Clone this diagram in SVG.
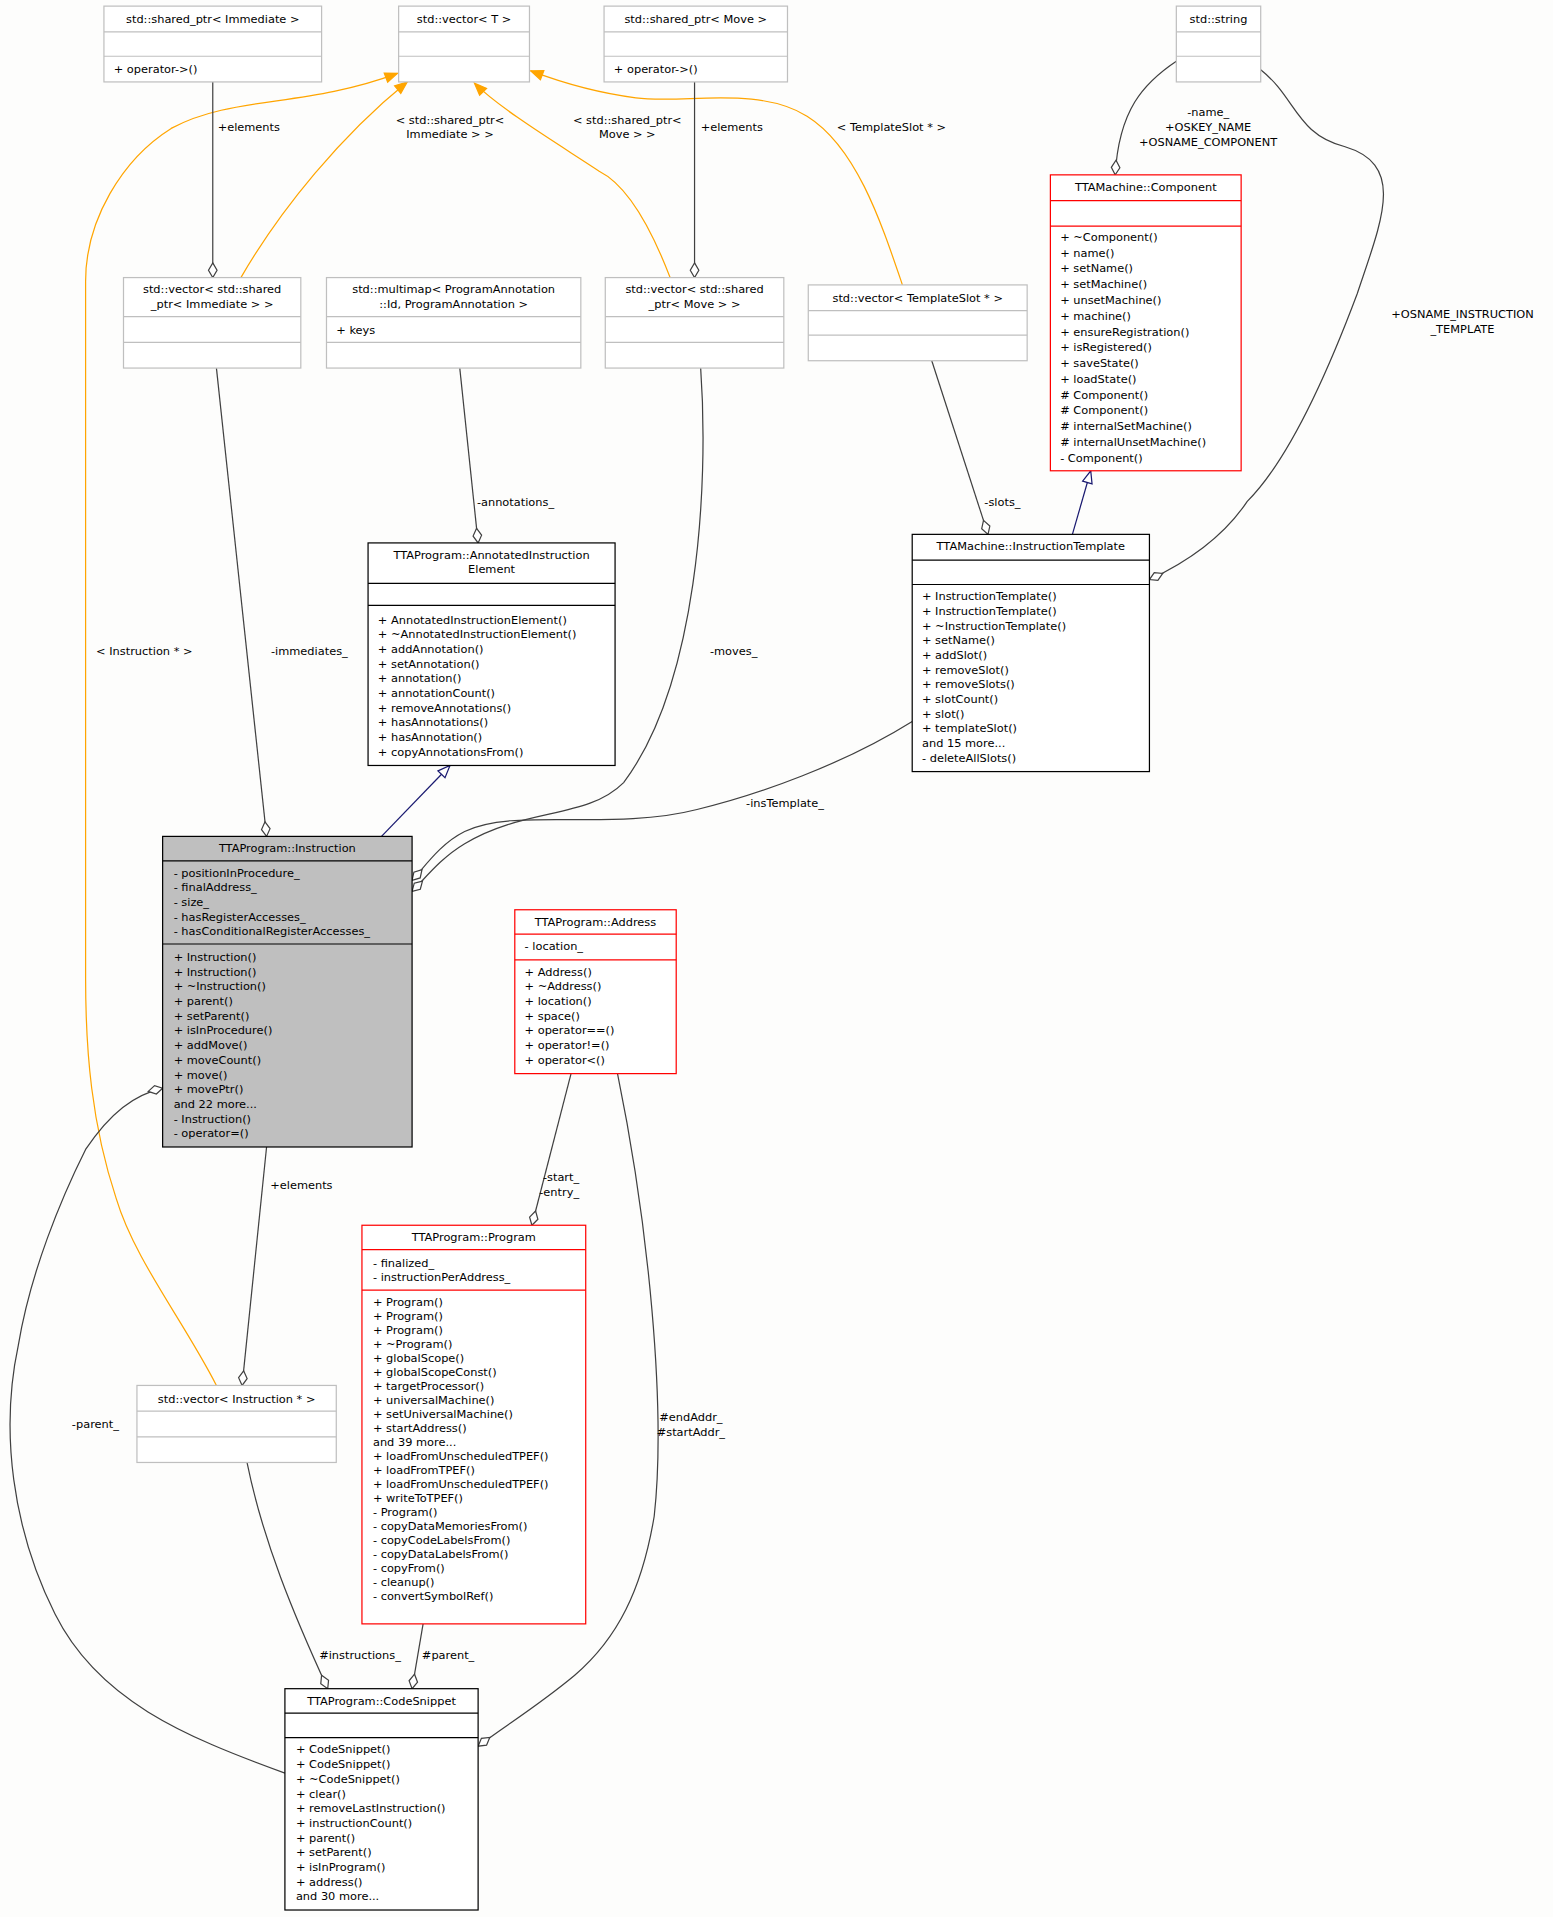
<svg xmlns="http://www.w3.org/2000/svg" width="1553" height="1917" viewBox="0 0 1553 1917">
<defs>
<style>
text{font-family:"DejaVu Sans","Liberation Sans",sans-serif;font-size:9.3px;fill:#000}
.t{text-anchor:middle}
.g{fill:#fff;stroke:#bfbfbf;stroke-width:1}
.b{fill:#fff;stroke:#000;stroke-width:1}
.r{fill:#fff;stroke:#ff0000;stroke-width:1}
.gl{stroke:#bfbfbf;stroke-width:1}
.bl{stroke:#000;stroke-width:1}
.rl{stroke:#ff0000;stroke-width:1}
.e{fill:none;stroke:#404040;stroke-width:1;marker-end:url(#dia)}
.o{fill:none;stroke:#ffa500;stroke-width:1;marker-end:url(#arr)}
.n{fill:none;stroke:#191970;stroke-width:1;marker-end:url(#tri)}
</style>
<marker id="dia" markerUnits="userSpaceOnUse" markerWidth="14" markerHeight="10" refX="12" refY="4" orient="auto" overflow="visible"><path d="M0,4 L6,0.5 L12,4 L6,7.5 Z" fill="#fff" stroke="#404040" stroke-width="1"/></marker>
<marker id="arr" markerUnits="userSpaceOnUse" markerWidth="12" markerHeight="10" refX="10" refY="4" orient="auto" overflow="visible"><path d="M0,0 L10,4 L0,8 Z" fill="#ffa500" stroke="#ffa500" stroke-width="1"/></marker>
<marker id="tri" markerUnits="userSpaceOnUse" markerWidth="12" markerHeight="10" refX="10" refY="4" orient="auto" overflow="visible"><path d="M0,0 L10,4 L0,8 Z" fill="#fff" stroke="#191970" stroke-width="1"/></marker>
</defs>
<rect width="1553" height="1917" fill="#fdfdfc"/>
<g transform="scale(1.2228)">
<g id="connectors">
<path class="o" d="M197,227 C230,170 280,110 333,67"/>
<text class="t" x="368" y="101">&lt; std::shared_ptr&lt;</text><text class="t" x="368" y="113">Immediate &gt; &gt;</text>
<path class="o" d="M548,227 C530,180 510,150 490,140 C460,120 410,90 388,68"/>
<text class="t" x="513" y="101">&lt; std::shared_ptr&lt;</text><text class="t" x="513" y="113">Move &gt; &gt;</text>
<path class="o" d="M738,233 C720,180 700,120 660,95 C620,70 560,85 520,80 C480,75 450,64 434,58"/>
<text class="t" x="729" y="107">&lt; TemplateSlot * &gt;</text>
<path class="o" d="M177,1133 C150,1080 110,1030 95,980 C75,920 70,860 70,800 L70,230 C70,180 100,130 140,105 C190,78 250,88 325,60"/>
<text class="t" x="118" y="536">&lt; Instruction * &gt;</text>
<path class="e" d="M174,67 L174,227"/>
<text x="178" y="107">+elements</text>
<path class="e" d="M568,67 L568,227"/>
<text x="573" y="107">+elements</text>
<path class="e" d="M962,50 C935,68 915,90 912,143"/>
<text class="t" x="988" y="95">-name_</text><text class="t" x="988" y="107">+OSKEY_NAME</text><text class="t" x="988" y="119">+OSNAME_COMPONENT</text>
<path class="e" d="M1031,57 C1060,80 1060,110 1100,120 C1150,135 1130,180 1110,240 C1080,320 1050,380 1020,410 C1000,440 970,460 940,474"/>
<text class="t" x="1196" y="260">+OSNAME_INSTRUCTION</text><text class="t" x="1196" y="272">_TEMPLATE</text>
<path class="e" d="M762,295 L808,437"/>
<text x="805" y="414">-slots_</text>
<path class="e" d="M376,301 L391,444"/>
<text x="390" y="414">-annotations_</text>
<path class="e" d="M177,301 L218,684"/>
<text class="t" x="253" y="536">-immediates_</text>
<path class="e" d="M573,301 C580,400 570,560 510,640 C480,670 430,660 380,690 C360,702 348,718 337,729"/>
<text class="t" x="600" y="536">-moves_</text>
<path class="e" d="M746,590 C690,625 620,650 570,662 C500,680 420,660 380,680 C360,690 348,708 337,720"/>
<text class="t" x="642" y="660">-insTemplate_</text>
<path class="e" d="M218,938 L198,1133"/>
<text x="221" y="972">+elements</text>
<path class="e" d="M467,878 L435,1002"/>
<text x="444" y="966">-start_</text><text x="441" y="978">-entry_</text>
<path class="e" d="M505,878 C530,1000 545,1150 535,1240 C525,1300 505,1340 470,1370 C440,1395 415,1410 391,1428"/>
<text class="t" x="565" y="1162">#endAddr_</text><text class="t" x="565" y="1174">#startAddr_</text>
<path class="e" d="M202,1196 C215,1260 240,1320 268,1381"/>
<text x="261" y="1357">#instructions_</text>
<path class="e" d="M346,1328 L337,1381"/>
<text x="345" y="1357">#parent_</text>
<path class="e" d="M233,1450 C150,1420 80,1390 45,1320 C10,1250 0,1170 15,1100 C25,1040 50,980 70,940 C90,910 110,895 133,890"/>
<text class="t" x="78" y="1168">-parent_</text>
<path class="n" d="M312,684 L368,626"/>
<path class="n" d="M877,437 L892,385"/>
</g>
<g id="spImmediate"><rect class="g" x="85" y="5" width="178" height="62"/><line class="gl" x1="85" y1="26" x2="263" y2="26"/><line class="gl" x1="85" y1="46" x2="263" y2="46"/><text class="t" x="174" y="19">std::shared_ptr&lt; Immediate &gt;</text><text x="93" y="60">+ operator-&gt;()</text></g>
<g id="vectorT"><rect class="g" x="326" y="5" width="107" height="62"/><line class="gl" x1="326" y1="26" x2="433" y2="26"/><line class="gl" x1="326" y1="46" x2="433" y2="46"/><text class="t" x="379.5" y="19">std::vector&lt; T &gt;</text></g>
<g id="spMove"><rect class="g" x="494" y="5" width="150" height="62"/><line class="gl" x1="494" y1="26" x2="644" y2="26"/><line class="gl" x1="494" y1="46" x2="644" y2="46"/><text class="t" x="569" y="19">std::shared_ptr&lt; Move &gt;</text><text x="502" y="60">+ operator-&gt;()</text></g>
<g id="string"><rect class="g" x="962" y="5" width="69" height="62"/><line class="gl" x1="962" y1="26" x2="1031" y2="26"/><line class="gl" x1="962" y1="46" x2="1031" y2="46"/><text class="t" x="996.5" y="19">std::string</text></g>
<g id="vecSpImmediate"><rect class="g" x="101" y="227" width="145" height="74"/><line class="gl" x1="101" y1="259" x2="246" y2="259"/><line class="gl" x1="101" y1="280" x2="246" y2="280"/><text class="t" x="173.5" y="240">std::vector&lt; std::shared</text><text class="t" x="173.5" y="252">_ptr&lt; Immediate &gt; &gt;</text></g>
<g id="multimap"><rect class="g" x="267" y="227" width="208" height="74"/><line class="gl" x1="267" y1="259" x2="475" y2="259"/><line class="gl" x1="267" y1="280" x2="475" y2="280"/><text class="t" x="371" y="240">std::multimap&lt; ProgramAnnotation</text><text class="t" x="371" y="252">::Id, ProgramAnnotation &gt;</text><text x="275" y="273">+ keys</text></g>
<g id="vecSpMove"><rect class="g" x="495" y="227" width="146" height="74"/><line class="gl" x1="495" y1="259" x2="641" y2="259"/><line class="gl" x1="495" y1="280" x2="641" y2="280"/><text class="t" x="568" y="240">std::vector&lt; std::shared</text><text class="t" x="568" y="252">_ptr&lt; Move &gt; &gt;</text></g>
<g id="vecTemplateSlot"><rect class="g" x="661" y="233" width="179" height="62"/><line class="gl" x1="661" y1="254" x2="840" y2="254"/><line class="gl" x1="661" y1="274" x2="840" y2="274"/><text class="t" x="750.5" y="247">std::vector&lt; TemplateSlot * &gt;</text></g>
<g id="component"><rect class="r" x="859" y="143" width="156" height="242"/><line class="rl" x1="859" y1="164" x2="1015" y2="164"/><line class="rl" x1="859" y1="185" x2="1015" y2="185"/><text class="t" x="937" y="156">TTAMachine::Component</text>
<text x="867" y="197">+ ~Component()</text><text x="867" y="209.9">+ name()</text><text x="867" y="222.8">+ setName()</text><text x="867" y="235.7">+ setMachine()</text><text x="867" y="248.6">+ unsetMachine()</text><text x="867" y="261.5">+ machine()</text><text x="867" y="274.4">+ ensureRegistration()</text><text x="867" y="287.3">+ isRegistered()</text><text x="867" y="300.2">+ saveState()</text><text x="867" y="313.1">+ loadState()</text><text x="867" y="326">#  Component()</text><text x="867" y="338.9">#  Component()</text><text x="867" y="351.8">#  internalSetMachine()</text><text x="867" y="364.7">#  internalUnsetMachine()</text><text x="867" y="377.6">- Component()</text></g>
<g id="annotated"><rect class="b" x="301" y="444" width="202" height="182"/><line class="bl" x1="301" y1="477" x2="503" y2="477"/><line class="bl" x1="301" y1="495" x2="503" y2="495"/><text class="t" x="402" y="457">TTAProgram::AnnotatedInstruction</text><text class="t" x="402" y="469">Element</text>
<text x="309" y="510">+ AnnotatedInstructionElement()</text><text x="309" y="522">+ ~AnnotatedInstructionElement()</text><text x="309" y="534">+ addAnnotation()</text><text x="309" y="546">+ setAnnotation()</text><text x="309" y="558">+ annotation()</text><text x="309" y="570">+ annotationCount()</text><text x="309" y="582">+ removeAnnotations()</text><text x="309" y="594">+ hasAnnotations()</text><text x="309" y="606">+ hasAnnotation()</text><text x="309" y="618">+ copyAnnotationsFrom()</text></g>
<g id="instrTemplate"><rect class="b" x="746" y="437" width="194" height="194"/><line class="bl" x1="746" y1="458" x2="940" y2="458"/><line class="bl" x1="746" y1="478" x2="940" y2="478"/><text class="t" x="843" y="450">TTAMachine::InstructionTemplate</text>
<text x="754" y="491">+ InstructionTemplate()</text><text x="754" y="503">+ InstructionTemplate()</text><text x="754" y="515">+ ~InstructionTemplate()</text><text x="754" y="527">+ setName()</text><text x="754" y="539">+ addSlot()</text><text x="754" y="551">+ removeSlot()</text><text x="754" y="563">+ removeSlots()</text><text x="754" y="575">+ slotCount()</text><text x="754" y="587">+ slot()</text><text x="754" y="599">+ templateSlot()</text><text x="754" y="611">and 15 more...</text><text x="754" y="623">- deleteAllSlots()</text></g>
<g id="instruction"><rect x="133" y="684" width="204" height="254" fill="#bfbfbf" stroke="#000"/><line class="bl" x1="133" y1="704" x2="337" y2="704"/><line class="bl" x1="133" y1="772" x2="337" y2="772"/><text class="t" x="235" y="697">TTAProgram::Instruction</text>
<text x="142" y="717">- positionInProcedure_</text><text x="142" y="729">- finalAddress_</text><text x="142" y="741">- size_</text><text x="142" y="753">- hasRegisterAccesses_</text><text x="142" y="765">- hasConditionalRegisterAccesses_</text>
<text x="142" y="786">+ Instruction()</text><text x="142" y="798">+ Instruction()</text><text x="142" y="810">+ ~Instruction()</text><text x="142" y="822">+ parent()</text><text x="142" y="834">+ setParent()</text><text x="142" y="846">+ isInProcedure()</text><text x="142" y="858">+ addMove()</text><text x="142" y="870">+ moveCount()</text><text x="142" y="882">+ move()</text><text x="142" y="894">+ movePtr()</text><text x="142" y="906">and 22 more...</text><text x="142" y="918">- Instruction()</text><text x="142" y="930">- operator=()</text></g>
<g id="address"><rect class="r" x="421" y="744" width="132" height="134"/><line class="rl" x1="421" y1="764" x2="553" y2="764"/><line class="rl" x1="421" y1="785" x2="553" y2="785"/><text class="t" x="487" y="757">TTAProgram::Address</text><text x="429" y="777">- location_</text>
<text x="429" y="798">+ Address()</text><text x="429" y="810">+ ~Address()</text><text x="429" y="822">+ location()</text><text x="429" y="834">+ space()</text><text x="429" y="846">+ operator==()</text><text x="429" y="858">+ operator!=()</text><text x="429" y="870">+ operator&lt;()</text></g>
<g id="program"><rect class="r" x="296" y="1002" width="183" height="326"/><line class="rl" x1="296" y1="1022" x2="479" y2="1022"/><line class="rl" x1="296" y1="1055" x2="479" y2="1055"/><text class="t" x="387.5" y="1015">TTAProgram::Program</text>
<text x="305" y="1036">- finalized_</text><text x="305" y="1048">- instructionPerAddress_</text>
<text x="305" y="1068">+ Program()</text><text x="305" y="1079.5">+ Program()</text><text x="305" y="1091">+ Program()</text><text x="305" y="1102.4">+ ~Program()</text><text x="305" y="1113.8">+ globalScope()</text><text x="305" y="1125.3">+ globalScopeConst()</text><text x="305" y="1136.7">+ targetProcessor()</text><text x="305" y="1148.2">+ universalMachine()</text><text x="305" y="1159.6">+ setUniversalMachine()</text><text x="305" y="1171">+ startAddress()</text><text x="305" y="1182.5">and 39 more...</text><text x="305" y="1194">+ loadFromUnscheduledTPEF()</text><text x="305" y="1205.4">+ loadFromTPEF()</text><text x="305" y="1216.9">+ loadFromUnscheduledTPEF()</text><text x="305" y="1228.3">+ writeToTPEF()</text><text x="305" y="1239.8">- Program()</text><text x="305" y="1251.2">- copyDataMemoriesFrom()</text><text x="305" y="1262.6">- copyCodeLabelsFrom()</text><text x="305" y="1274.1">- copyDataLabelsFrom()</text><text x="305" y="1285.5">- copyFrom()</text><text x="305" y="1297">- cleanup()</text><text x="305" y="1308.4">- convertSymbolRef()</text></g>
<g id="vecInstruction"><rect class="g" x="112" y="1133" width="163" height="63"/><line class="gl" x1="112" y1="1154" x2="275" y2="1154"/><line class="gl" x1="112" y1="1175" x2="275" y2="1175"/><text class="t" x="193.5" y="1147">std::vector&lt; Instruction * &gt;</text></g>
<g id="codeSnippet"><rect class="b" x="233" y="1381" width="158" height="181"/><line class="bl" x1="233" y1="1401" x2="391" y2="1401"/><line class="bl" x1="233" y1="1421" x2="391" y2="1421"/><text class="t" x="312" y="1394">TTAProgram::CodeSnippet</text>
<text x="242" y="1434">+ CodeSnippet()</text><text x="242" y="1446">+ CodeSnippet()</text><text x="242" y="1458">+ ~CodeSnippet()</text><text x="242" y="1470">+ clear()</text><text x="242" y="1482">+ removeLastInstruction()</text><text x="242" y="1494">+ instructionCount()</text><text x="242" y="1506">+ parent()</text><text x="242" y="1518">+ setParent()</text><text x="242" y="1530">+ isInProgram()</text><text x="242" y="1542">+ address()</text><text x="242" y="1554">and 30 more...</text></g>
</g>
</svg>
